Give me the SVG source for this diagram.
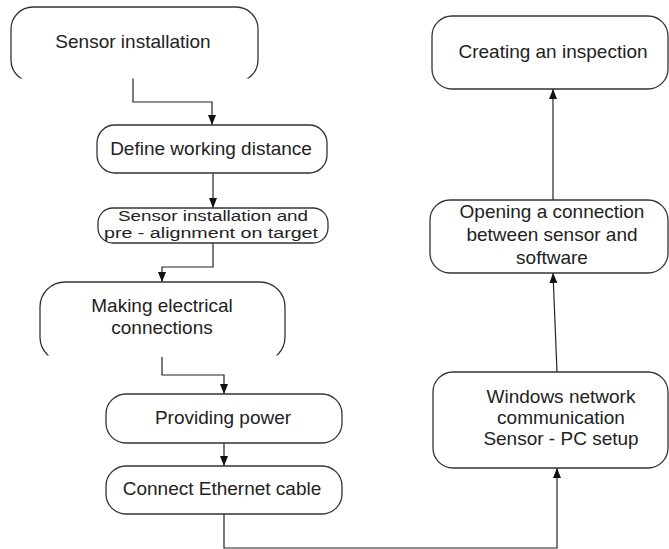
<svg xmlns="http://www.w3.org/2000/svg" width="669" height="549" viewBox="0 0 669 549">
<style>
.box{fill:#fff;stroke:#333;stroke-width:1.3}
.lbl{font-family:"Liberation Sans",Arial,sans-serif;font-size:19px;fill:#222;text-anchor:middle}
.sm{font-size:15.5px}
.con{fill:none;stroke:#222;stroke-width:1.2;marker-end:url(#ah)}
</style>
<defs>
<marker id="ah" markerUnits="userSpaceOnUse" markerWidth="10" markerHeight="10" viewBox="0 0 10 10" refX="10" refY="5" orient="auto">
<path d="M0,1 L10,5 L0,9 Z" fill="#111"/>
</marker>
<clipPath id="clipA"><rect x="0" y="0" width="669" height="78.5"/></clipPath>
<clipPath id="clipM"><rect x="0" y="270" width="669" height="85.5"/></clipPath>
</defs>
<rect width="669" height="549" fill="#fff"/>
<g id="connectors">
<path class="con" d="M133,78 V102 H212 V125"/>
<path class="con" d="M213,173 V208"/>
<path class="con" d="M213,243 V267 H162 V282"/>
<path class="con" d="M162,357 V375 H224 V394"/>
<path class="con" d="M224,443 V466"/>
<path class="con" d="M224,514 V548 H557 V468"/>
<path class="con" d="M557,372 L553,273"/>
<path class="con" d="M553,200 V89"/>
</g>
<g id="n1">
<rect class="box" x="11" y="7" width="247" height="75" rx="22" clip-path="url(#clipA)"/>
<text class="lbl" x="133" y="48">Sensor installation</text>
</g>
<g id="n2">
<rect class="box" x="97" y="125" width="230" height="48" rx="18"/>
<text class="lbl" x="211" y="155">Define working distance</text>
</g>
<g id="n3">
<rect class="box" x="98" y="208" width="230" height="35" rx="15"/>
<text class="lbl sm" x="213" y="221" textLength="190" lengthAdjust="spacingAndGlyphs">Sensor installation and</text>
<text class="lbl sm" x="211" y="238" textLength="214" lengthAdjust="spacingAndGlyphs">pre - alignment on target</text>
</g>
<g id="n4">
<rect class="box" x="40" y="282" width="245" height="80" rx="25" clip-path="url(#clipM)"/>
<text class="lbl" x="162" y="312">Making electrical</text>
<text class="lbl" x="162" y="334">connections</text>
</g>
<g id="n5">
<rect class="box" x="106" y="394" width="236" height="49" rx="20"/>
<text class="lbl" x="223" y="424">Providing power</text>
</g>
<g id="n6">
<rect class="box" x="106" y="466" width="236" height="48" rx="20"/>
<text class="lbl" x="222" y="495">Connect Ethernet cable</text>
</g>
<g id="n7">
<rect class="box" x="433" y="372" width="235" height="96" rx="20"/>
<text class="lbl" x="561" y="403">Windows network</text>
<text class="lbl" x="561" y="424">communication</text>
<text class="lbl" x="561" y="445">Sensor - PC setup</text>
</g>
<g id="n8">
<rect class="box" x="430" y="200" width="238" height="73" rx="20"/>
<text class="lbl" x="552" y="218">Opening a connection</text>
<text class="lbl" x="552" y="241">between sensor and</text>
<text class="lbl" x="552" y="264">software</text>
</g>
<g id="n9">
<rect class="box" x="432" y="16" width="236" height="73" rx="20"/>
<text class="lbl" x="553" y="58">Creating an inspection</text>
</g>
</svg>
